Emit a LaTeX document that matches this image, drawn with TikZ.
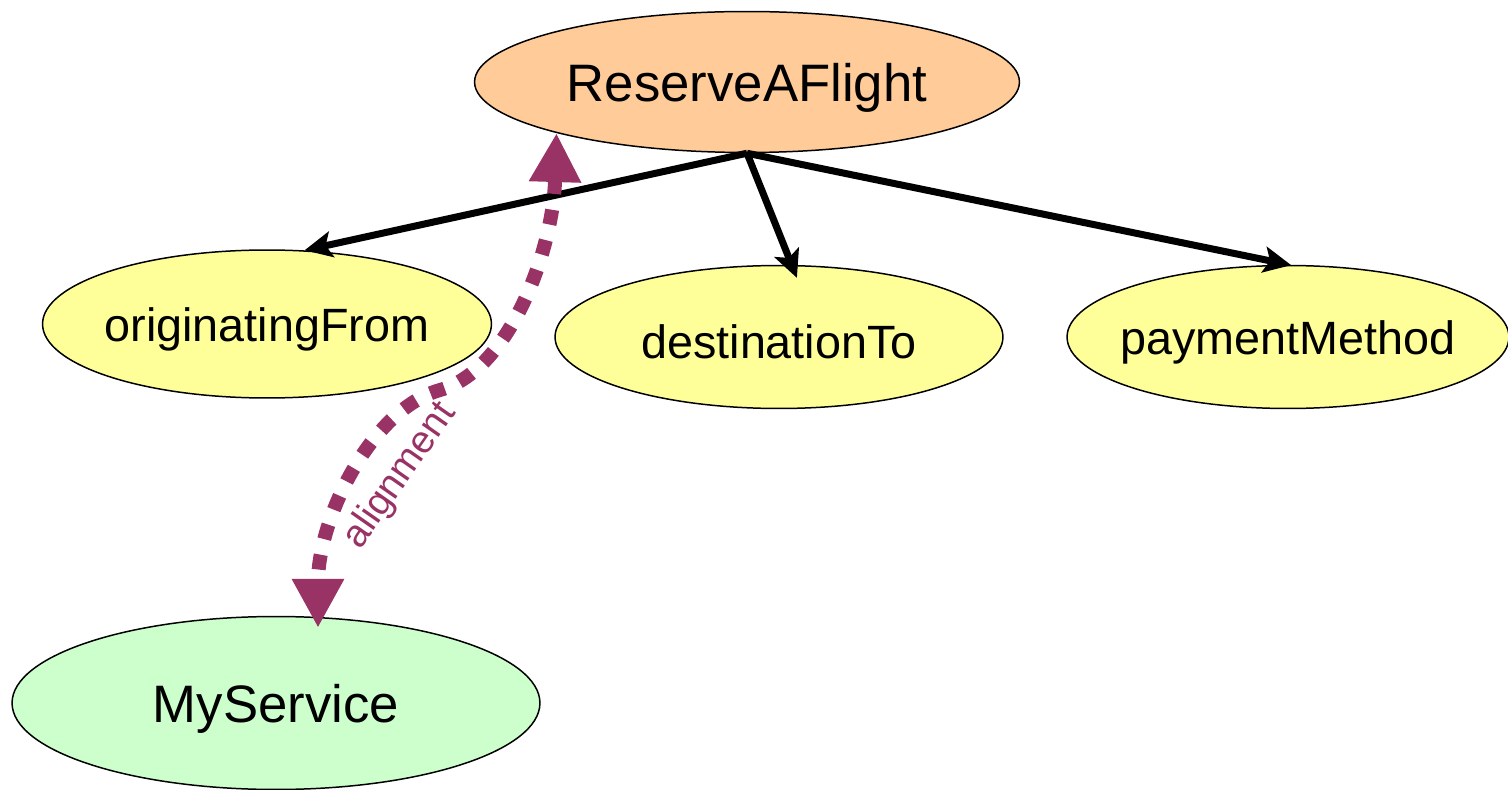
\documentclass[tikz,border=0pt]{standalone}
\usepackage{fontspec}
\setmainfont{Liberation Sans}
\usetikzlibrary{shapes.geometric,arrows.meta}
\definecolor{peach}{HTML}{FFCC99}
\definecolor{paleyellow}{HTML}{FFFF99}
\definecolor{palegreen}{HTML}{CCFFCC}
\definecolor{plum}{HTML}{993366}
\tikzset{
  concept/.style={ellipse, draw=black, line width=0.85pt, inner sep=0pt},
  bigtext/.style={font=\fontsize{30}{36}\selectfont, yshift=-0.12cm},
  smalltext/.style={font=\fontsize{26.6}{32}\selectfont, yshift=-0.1cm},
  flow/.style={line width=0.14cm, -{Stealth[length=0.55cm, width=0.52cm, inset=0.12cm]}},
  alignlink/.style={plum, line width=0.28cm, dash pattern=on 0.3cm off 0.32cm,
    {Triangle[length=0.98cm, width=0.98cm]}-{Triangle[length=0.98cm, width=0.98cm]}},
  alignlabel/.style={text=plum, font=\fontsize{22}{26}\selectfont, inner sep=0pt}
}
\begin{document}
\begin{tikzpicture}[x=0.02cm, y=-0.02cm]
\useasboundingbox (0,0) rectangle (1508,790);

% concepts: the outline size is fixed, the name sits in the middle
\node[concept, fill=peach, minimum width=10.9cm, minimum height=2.82cm,
  label={[bigtext]center:ReserveAFlight}] (r) at (747,82) {};
\node[concept, fill=paleyellow, minimum width=8.98cm, minimum height=2.96cm,
  label={[smalltext]center:originatingFrom}] (o) at (267,324) {};
\node[concept, fill=paleyellow, minimum width=8.96cm, minimum height=2.86cm,
  label={[smalltext]center:destinationTo}] (d) at (779,337) {};
\node[concept, fill=paleyellow, minimum width=8.84cm, minimum height=2.86cm,
  label={[smalltext]center:paymentMethod}] (p) at (1288,337) {};
\node[concept, fill=palegreen, minimum width=10.56cm, minimum height=3.46cm,
  label={[bigtext]center:MyService}] (m) at (276,703) {};

% parameters of the service
\draw[flow] (r.south) -- (o.63);
\draw[flow, shorten >=-0.28cm] (r.south) -- (d.80);
\draw[flow, shorten >=-0.04cm] (r.south) -- (p.89);

% alignment link
\coordinate (bend) at (440,390);
\draw[alignlink, shorten >=-0.22cm] (r.195) .. controls (553,250) and (510,370) .. (bend)
  .. controls (370,410) and (318,520) .. (m.64);
\node[alignlabel, rotate=55] (lbl) at (400,476) {alignment};
\end{tikzpicture}
\end{document}
